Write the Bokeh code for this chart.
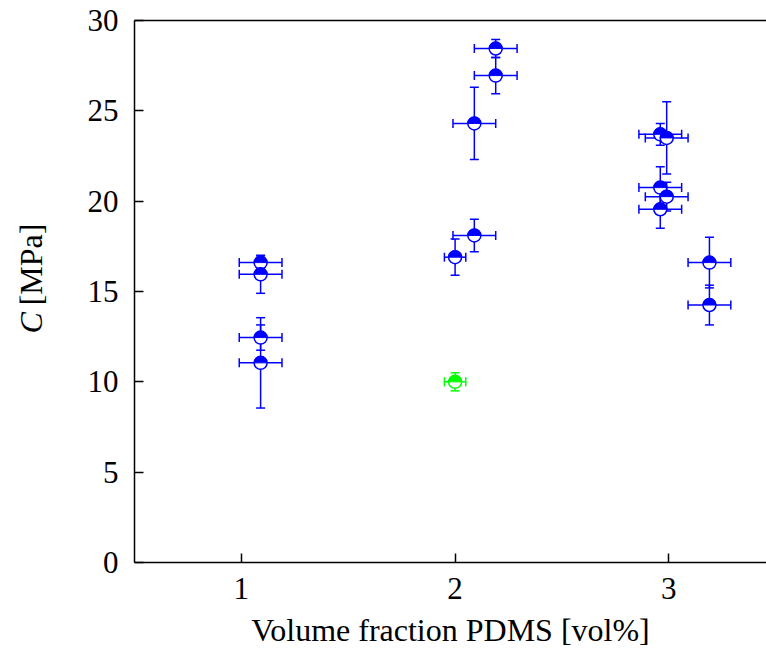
import numpy as np
from bokeh.plotting import figure
from bokeh.models import (ColumnDataSource, Whisker, TeeHead, LinearAxis,
                          FixedTicker, Label)
from bokeh.embed import file_html
from bokeh.resources import INLINE

# ---- data ----
blue_x = [1.09, 1.09, 1.09, 1.09, 2.00, 2.09, 2.09, 2.19, 2.19,
          2.96, 2.99, 2.96, 2.99, 2.96, 3.19, 3.19]
blue_y = [16.6, 15.95, 12.45, 11.05, 16.9, 18.1, 24.3, 26.95, 28.45,
          23.7, 23.5, 20.75, 20.25, 19.55, 16.6, 14.25]
blue_xerr = [0.1, 0.1, 0.1, 0.1, 0.05, 0.1, 0.1, 0.1, 0.1,
             0.1, 0.1, 0.1, 0.1, 0.1, 0.1, 0.1]
blue_yerr = [0.3, 1.05, 0.7, 2.5, 1.0, 0.9, 2.0, 1.0, 0.5,
             0.6, 2.0, 1.15, 0.8, 1.05, 1.4, 1.1]

green_x = [2.00]
green_y = [10.0]
green_xerr = [0.05]
green_yerr = [0.5]

x_ticks = [1, 2, 3]
y_ticks = [0, 5, 10, 15, 20, 25, 30]

FONT = "Liberation Serif"
FS = "31px"
LFS = "32px"

# axes box: x 0.5..3.457 (right side cut by window), y 0..30
X0, X1, Y0, Y1 = 0.5, 3.457, 0.0, 30.0
# whole canvas is the frame; axes are drawn at fixed locations
XR = (-0.127, 3.457)
YR = (-5.092, 31.107)

p = figure(width=766, height=654, x_range=XR, y_range=YR,
           output_backend="svg", toolbar_location=None,
           x_axis_location=None, y_axis_location=None,
           min_border_left=0, min_border_right=0,
           min_border_top=0, min_border_bottom=0)
p.outline_line_color = None
p.grid.visible = False
p.background_fill_color = "white"
p.border_fill_color = "white"


def style(ax):
    ax.axis_line_width = 1.5
    ax.axis_line_color = "black"
    ax.major_tick_in = 9
    ax.major_tick_out = 0
    ax.major_tick_line_width = 1.5
    ax.minor_tick_line_color = None
    ax.major_label_text_font = FONT
    ax.major_label_text_font_size = FS
    ax.major_label_text_color = "black"


xa = LinearAxis(fixed_location=Y0, bounds=(X0, X1),
                ticker=FixedTicker(ticks=x_ticks))
style(xa)
xa.major_label_standoff = 15
xa.axis_label = "Volume fraction PDMS [vol%]"
xa.axis_label_text_font = FONT
xa.axis_label_text_font_size = LFS
xa.axis_label_text_font_style = "normal"
xa.axis_label_text_color = "black"
xa.axis_label_standoff = 10
p.add_layout(xa, "below")

ya = LinearAxis(fixed_location=X0, bounds=(Y0, Y1),
                ticker=FixedTicker(ticks=y_ticks))
style(ya)
ya.major_label_standoff = 16
p.add_layout(ya, "left")

top = LinearAxis(fixed_location=Y1, bounds=(X0, X1),
                 ticker=FixedTicker(ticks=[]), axis_line_width=1.5,
                 major_tick_line_color=None, minor_tick_line_color=None,
                 major_label_text_font_size="0px")
p.add_layout(top, "above")

# rotated y-axis label: italic C + upright [MPa]
p.add_layout(Label(x=0.018, y=12.67, text="C", angle=np.pi / 2,
                   text_font=FONT, text_font_size=LFS,
                   text_font_style="italic", text_align="left",
                   text_baseline="alphabetic", text_color="black"))
p.add_layout(Label(x=0.018, y=18.76, text="[MPa]", angle=np.pi / 2,
                   text_font=FONT, text_font_size=LFS,
                   text_align="right", text_baseline="alphabetic",
                   text_color="black"))


def series(xs, ys, xe, ye, color):
    src = ColumnDataSource(dict(
        x=xs, y=ys,
        yl=[a - b for a, b in zip(ys, ye)], yu=[a + b for a, b in zip(ys, ye)],
        xl=[a - b for a, b in zip(xs, xe)], xu=[a + b for a, b in zip(xs, xe)],
    ))
    p.scatter("x", "y", source=src, marker="circle", size=13,
              fill_color="white", line_color=color, line_width=1.5)
    p.wedge("x", "y", source=src, radius=6.5, radius_units="screen",
            start_angle=0, end_angle=np.pi, fill_color=color,
            line_color=color, line_width=1)
    for dim, base, lo, hi in (("height", "x", "yl", "yu"),
                              ("width", "y", "xl", "xu")):
        w = Whisker(source=src, base=base, lower=lo, upper=hi, dimension=dim,
                    line_color=color, line_width=1.5,
                    lower_head=TeeHead(size=9, line_color=color, line_width=1.5),
                    upper_head=TeeHead(size=9, line_color=color, line_width=1.5))
        p.add_layout(w)


series(blue_x, blue_y, blue_xerr, blue_yerr, "#0000ff")
series(green_x, green_y, green_xerr, green_yerr, "#00ff00")

open("out.html", "w").write(file_html(p, INLINE))
